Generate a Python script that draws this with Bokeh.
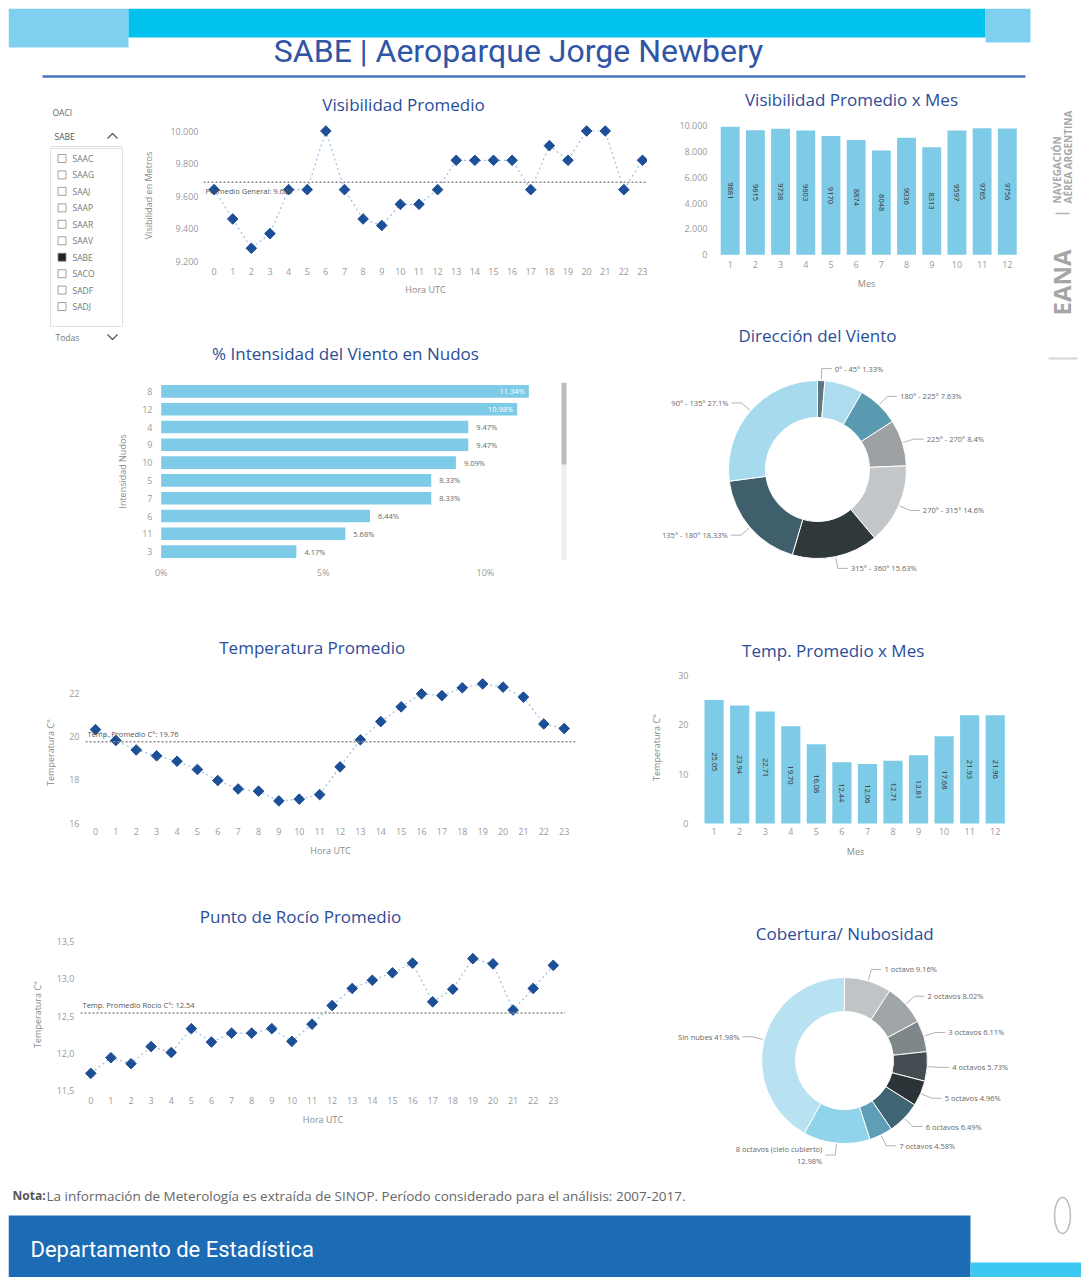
import math
from bokeh.plotting import figure
from bokeh.layouts import row, column
from bokeh.models import Range1d, FactorRange, FixedTicker, CustomJSTickFormatter, Span, Spacer
from bokeh.core.properties import value
from bokeh.embed import file_html
from bokeh.resources import INLINE

# ------------------------------------------------------------------ data
hours = list(range(24))
vis_hour = [9640, 9460, 9280, 9370, 9640, 9640, 10000, 9640, 9460, 9420, 9550, 9550,
            9640, 9820, 9820, 9820, 9820, 9640, 9910, 9820, 10000, 10000, 9640, 9820]
vis_avg = 9686
vis_ticks = [9200, 9400, 9600, 9800, 10000]

months = list(range(1, 13))
vis_month = [9881, 9615, 9738, 9603, 9170, 8874, 8048, 9036, 8313, 9597, 9765, 9756]
vis_month_ticks = [0, 2000, 4000, 6000, 8000, 10000]

wind_knots = ["8", "12", "4", "9", "10", "5", "7", "6", "11", "3"]
wind_pct = [11.34, 10.98, 9.47, 9.47, 9.09, 8.33, 8.33, 6.44, 5.68, 4.17]
wind_ticks = [0, 5, 10]

dir_labels = ["0° - 45°", "45° - 90°", "180° - 225°", "225° - 270°", "270° - 315°",
              "315° - 360°", "135° - 180°", "90° - 135°"]
dir_pct = [1.33, 6.98, 7.63, 8.4, 14.6, 15.63, 18.33, 27.1]
dir_unlabeled = ["45° - 90°"]

temp_hour = [20.32, 19.82, 19.38, 19.11, 18.86, 18.48, 17.97, 17.58, 17.48, 17.03, 17.11, 17.32,
             18.60, 19.85, 20.69, 21.37, 21.97, 21.89, 22.25, 22.43, 22.28, 21.82, 20.58, 20.37]
temp_avg = 19.76
temp_ticks = [16, 18, 20, 22]

temp_month = [25.05, 23.94, 22.71, 19.70, 16.08, 12.44, 12.06, 12.71, 13.81, 17.68, 21.93, 21.96]
temp_month_ticks = [0, 10, 20, 30]

dew_hour = [11.73, 11.94, 11.86, 12.09, 12.01, 12.33, 12.15, 12.27, 12.27, 12.33, 12.16, 12.39,
            12.64, 12.87, 12.98, 13.08, 13.21, 12.69, 12.86, 13.27, 13.20, 12.58, 12.87, 13.18]
dew_avg = 12.54
dew_ticks = [11.5, 12.0, 12.5, 13.0, 13.5]

cloud_labels = ["1 octavo", "2 octavos", "3 octavos", "4 octavos", "5 octavos", "6 octavos",
                "7 octavos", "8 octavos (cielo cubierto)", "Sin nubes"]
cloud_pct = [9.16, 8.02, 6.11, 5.73, 4.96, 6.49, 4.58, 12.98, 41.98]

oaci_items = ["SAAC", "SAAG", "SAAJ", "SAAP", "SAAR", "SAAV", "SABE", "SACO", "SADF", "SADJ"]
oaci_selected = "SABE"

# ------------------------------------------------------------------ styles
FONT = "Open Sans"
TITLE_C = "#2B4D97"
BAR_C = "#7DCBE6"
MARK_C = "#1D4F96"
LINE_C = "#9DBEE2"
AVG_C = "#8C8C8C"
TICK_C = "#9A9A9A"
AXT_C = "#8A8A8A"
LAB_C = "#666666"
DIR_COLORS = ["#5F7580", "#ADDCEE", "#5A9AB1", "#9DA1A4", "#C4C7C9", "#2F393C", "#3E5F6B", "#A7DAEE"]
CLOUD_COLORS = ["#C0C4C6", "#A0A5A8", "#80878B", "#444D51", "#2B3336", "#3F6474", "#5E9EB7",
                "#8FD4EB", "#B8E2F2"]

THOUS = CustomJSTickFormatter(code=r"return Math.round(tick).toString().replace(/\B(?=(\d{3})+(?!\d))/g, '.');")
DECOMMA = CustomJSTickFormatter(code="return tick.toFixed(1).replace('.', ',');")
PCT = CustomJSTickFormatter(code="return tick + '%';")


def lin(v0, p0, v1, p1):
    k = (p1 - p0) / (v1 - v0)
    return lambda px: v0 + (px - p0) / k


def no_align(p):
    try:
        p.frame_align = False
    except Exception:
        pass


def canvas(x0, y0, w, h):
    p = figure(width=w, height=h, x_range=Range1d(x0, x0 + w), y_range=Range1d(-(y0 + h), -y0),
               x_axis_type=None, y_axis_type=None, min_border=0, title=None,
               toolbar_location=None, tools="", output_backend="svg")
    p.outline_line_color = None
    no_align(p)
    return p


def txt(p, x, y, s, size, color, align="left", baseline="middle", style="normal", angle=0.0, font=FONT):
    p.text(x=[x], y=[-y], text=[s], text_font=value(font), text_font_size=f"{size}px",
           text_color=color, text_align=align, text_baseline=baseline,
           text_font_style=style, angle=angle)


def title(p, x, y, s):
    txt(p, x, y, s, 17, TITLE_C, align="center")


def chart(x0, y0, w, h, frame, xr, yr):
    fl, ft, fr, fb = frame
    p = figure(width=w, height=h, x_range=xr, y_range=yr,
               min_border_left=fl - x0, min_border_right=x0 + w - fr,
               min_border_top=ft - y0, min_border_bottom=y0 + h - fb,
               title=None, toolbar_location=None, tools="", output_backend="svg")
    p.outline_line_color = None
    no_align(p)
    p.grid.visible = False
    for ax in p.axis:
        ax.axis_line_color = None
        ax.major_tick_line_color = None
        ax.minor_tick_line_color = None
        ax.major_tick_out = 0
        ax.major_tick_in = 0
        ax.major_label_text_font = FONT
        ax.major_label_text_font_size = "9px"
        ax.major_label_text_color = TICK_C
        ax.axis_label_text_font = FONT
        ax.axis_label_text_font_size = "9px"
        ax.axis_label_text_color = AXT_C
        ax.axis_label_text_font_style = "normal"
    return p


def axes(p, xlab, ylab, xstand, xlstand, ystand, ylstand):
    if xlab:
        p.xaxis.axis_label = xlab
    if ylab:
        p.yaxis.axis_label = ylab
    p.xaxis.major_label_standoff = xstand
    p.xaxis.axis_label_standoff = xlstand
    p.yaxis.major_label_standoff = ystand
    p.yaxis.axis_label_standoff = ylstand


def series(p, xs, ys, avg, label, lx, below):
    p.line(xs, ys, line_color=LINE_C, line_width=1.2, line_dash="2 3")
    p.scatter(xs, ys, marker="square", angle=math.pi / 4, size=7.5, fill_color=MARK_C, line_color=MARK_C)
    p.add_layout(Span(location=avg, dimension="width", line_color=AVG_C, line_width=1.5, line_dash="2 2"))
    p.text(x=[lx], y=[avg], text=[label], x_offset=2, y_offset=(9 if below else -3),
           text_baseline=("middle" if below else "bottom"), text_align="left",
           text_font=value(FONT), text_font_size="7.5px", text_color="#555555")


def donut(p, cx, cy, ro, ri, labels, pcts, colors, hidden):
    starts, ends = [], []
    c = 0.0
    for v in pcts:
        starts.append(math.pi / 2 - 2 * math.pi * c / 100.0)
        c += v
        ends.append(math.pi / 2 - 2 * math.pi * c / 100.0)
    p.annular_wedge(x=cx, y=-cy, inner_radius=ri, outer_radius=ro, start_angle=starts,
                    end_angle=ends, direction="clock", fill_color=colors, line_color="white",
                    line_width=1)
    lx, ly = [], []
    # labels right of the ring are left-aligned, labels left of it are right-aligned
    groups = {"left": ([], [], []), "right": ([], [], [])}
    for lab, v, a0, a1 in zip(labels, pcts, starts, ends):
        if lab in hidden:
            continue
        am = (a0 + a1) / 2
        ux, uy = math.cos(am), math.sin(am)
        side = 1 if ux >= 0 else -1
        x1, y1 = cx + (ro + 1) * ux, -cy + (ro + 1) * uy
        x2, y2 = cx + (ro + 12) * ux, -cy + (ro + 12) * uy
        x3 = x2 + 10 * side
        lx.append([x1, x2, x3])
        ly.append([y1, y2, y2])
        s = f"{lab}\n{v}%" if len(lab) > 15 else f"{lab} {v}%"
        g = groups["left" if side > 0 else "right"]
        g[0].append(x3 + 3 * side)
        g[1].append(y2)
        g[2].append(s)
    p.multi_line(lx, ly, line_color="#A0A0A0", line_width=0.8)
    for al, (gx, gy, gt) in groups.items():
        if gx:
            p.text(x=gx, y=gy, text=gt, text_align=al, text_baseline="middle",
                   text_font=value(FONT), text_font_size="7.5px", text_color=LAB_C)


# ------------------------------------------------------------------ header
header = canvas(8, 8, 1030, 72)
header.quad(left=[8, 128, 985], right=[128, 985, 1030], top=[-8, -8, -8], bottom=[-47, -37, -42],
            fill_color=["#7FD0EF", "#00C1EE", "#7FD0EF"], line_color=None)
txt(header, 518, 50, "SABE | Aeroparque Jorge Newbery", 32, "#2F55A4", align="center", font="Roboto")
header.line([42, 1025], [-76, -76], line_color="#4A74C2", line_width=2.5)

# ------------------------------------------------------------------ slicer
slicer = canvas(8, 80, 130, 262)
txt(slicer, 52, 112, "OACI", 8.5, LAB_C)
txt(slicer, 54, 136, oaci_selected, 8.5, "#555555")
slicer.line([50, 122], [-146, -146], line_color="#DDDDDD", line_width=1)
slicer.line([107, 112, 117], [-138, -133, -138], line_color="#555555", line_width=1.2)
slicer.quad(left=[50], right=[122], top=[-148], bottom=[-326], fill_color=None, line_color="#E2E2E2")
iy = [-(158 + 16.45 * i) for i in range(len(oaci_items))]
slicer.rect(x=[61.5] * len(oaci_items), y=iy, width=8, height=8,
            fill_color=["#222222" if s == oaci_selected else "white" for s in oaci_items],
            line_color="#8A8A8A", line_width=0.8)
slicer.text(x=[72] * len(oaci_items), y=iy, text=oaci_items, text_baseline="middle",
            text_font=value(FONT), text_font_size="8.5px", text_color="#777777")
txt(slicer, 55, 337, "Todas", 8.5, "#777777")
slicer.line([107, 112, 117], [-334, -339, -334], line_color="#555555", line_width=1.2)

# ------------------------------------------------------------------ Visibilidad Promedio
vis_t = canvas(138, 80, 509, 38)
title(vis_t, 403, 104, "Visibilidad Promedio")
vx = lin(0, 213.6, 23, 642)
vy = lin(9200, 260.8, 10000, 130.5)
vis = chart(138, 118, 509, 224, (203, 124, 647, 266), Range1d(vx(203), vx(647)), Range1d(vy(266), vy(124)))
vis.xaxis.ticker = FixedTicker(ticks=hours)
vis.yaxis.ticker = FixedTicker(ticks=vis_ticks)
vis.yaxis.formatter = THOUS
axes(vis, "Hora UTC", "Visibilidad en Metros", 1, 5, 5, 12)
series(vis, hours, vis_hour, vis_avg, "Promedio General: " + f"{vis_avg:,}".replace(",", "."), vx(203), True)

# ------------------------------------------------------------------ Intensidad del viento
wind_t = canvas(8, 342, 639, 24)
title(wind_t, 345, 353, "% Intensidad del Viento en Nudos")
wx = lin(0, 160.7, 10, 484.9)
wind = chart(8, 366, 639, 226, (157, 382, 572, 560), Range1d(wx(157), wx(572)),
             FactorRange(factors=wind_knots[::-1]))
wind.hbar(y=wind_knots, left=0, right=wind_pct, height=0.71, fill_color=BAR_C, line_color=None)
ins = [i for i, v in enumerate(wind_pct) if v > 10]
out = [i for i, v in enumerate(wind_pct) if v <= 10]
wind.text(x=[wind_pct[i] for i in ins], y=[wind_knots[i] for i in ins],
          text=[f"{wind_pct[i]:.2f}%" for i in ins], x_offset=-4, text_align="right",
          text_baseline="middle", text_font=value(FONT), text_font_size="7.5px", text_color="white")
wind.text(x=[wind_pct[i] for i in out], y=[wind_knots[i] for i in out],
          text=[f"{wind_pct[i]:.2f}%" for i in out], x_offset=8, text_align="left",
          text_baseline="middle", text_font=value(FONT), text_font_size="7.5px", text_color=LAB_C)
wind.quad(left=[wx(561)], right=[wx(566)], bottom=[0], top=[10], fill_color="#EEEEEE", line_color=None)
wind.quad(left=[wx(561)], right=[wx(566)], bottom=[5.4], top=[10], fill_color="#BDBDBD", line_color=None)
wind.xaxis.ticker = FixedTicker(ticks=wind_ticks)
wind.xaxis.formatter = PCT
axes(wind, None, "Intensidad Nudos", 5, 5, 5, 10)

# ------------------------------------------------------------------ Temperatura Promedio
temp_t = canvas(8, 592, 639, 73)
title(temp_t, 311.7, 646.7, "Temperatura Promedio")
tx = lin(0, 95, 22, 543.3)
ty = lin(16, 822.7, 22, 692.7)
temp = chart(8, 665, 639, 205, (85, 678, 575, 826), Range1d(tx(85), tx(575)), Range1d(ty(826), ty(678)))
temp.xaxis.ticker = FixedTicker(ticks=hours)
temp.yaxis.ticker = FixedTicker(ticks=temp_ticks)
axes(temp, "Hora UTC", "Temperatura C°", 1, 6, 6, 9)
series(temp, hours, temp_hour, temp_avg, f"Temp. Promedio C°: {temp_avg}", tx(85), False)

# ------------------------------------------------------------------ Punto de Rocío
dew_t = canvas(8, 870, 639, 62)
title(dew_t, 300, 915.8, "Punto de Rocío Promedio")
dx = lin(0, 90.3, 23, 552.8)
dy = lin(11.5, 1090, 13.5, 941)
dew = chart(8, 932, 639, 248, (80, 935, 565, 1093), Range1d(dx(80), dx(565)), Range1d(dy(1093), dy(935)))
dew.xaxis.ticker = FixedTicker(ticks=hours)
dew.yaxis.ticker = FixedTicker(ticks=dew_ticks)
dew.yaxis.formatter = DECOMMA
axes(dew, "Hora UTC", "Temperatura C°", 3, 6, 6, 10)
series(dew, hours, dew_hour, dew_avg, f"Temp. Promedio Rocío C°: {dew_avg}", dx(80), False)

# ------------------------------------------------------------------ Visibilidad x Mes
vm_t = canvas(647, 80, 391, 35)
title(vm_t, 851, 99, "Visibilidad Promedio x Mes")
m1x = lin(1, 729.7, 12, 1006.8)
m1y = lin(0, 254.3, 10000, 124.8)
vm = chart(647, 115, 391, 185, (712, 119, 1020, 256), Range1d(m1x(712), m1x(1020)), Range1d(m1y(256), m1y(119)))
vm.vbar(x=months, top=vis_month, width=0.75, fill_color=BAR_C, line_color=None)
vm.text(x=months, y=[v / 2 for v in vis_month], text=[str(v) for v in vis_month], angle=-math.pi / 2,
        text_align="center", text_baseline="middle", text_font=value(FONT), text_font_size="7.5px",
        text_color="#333333")
vm.xaxis.ticker = FixedTicker(ticks=months)
vm.yaxis.ticker = FixedTicker(ticks=vis_month_ticks)
vm.yaxis.formatter = THOUS
axes(vm, "Mes", None, 4, 6, 5, 5)

# ------------------------------------------------------------------ Dirección del Viento
dirf = canvas(647, 300, 391, 290)
title(dirf, 817, 335, "Dirección del Viento")
donut(dirf, 817, 469, 89, 52, dir_labels, dir_pct, DIR_COLORS, dir_unlabeled)

# ------------------------------------------------------------------ Temp x Mes
tm_t = canvas(647, 590, 391, 78)
title(tm_t, 832.7, 650, "Temp. Promedio x Mes")
m3x = lin(1, 706, 12, 994.3)
m3y = lin(0, 823, 30, 675)
tm = chart(647, 668, 391, 200, (690, 670, 1012, 824), Range1d(m3x(690), m3x(1012)), Range1d(m3y(824), m3y(670)))
tm.vbar(x=months, top=temp_month, width=0.75, fill_color=BAR_C, line_color=None)
tm.text(x=months, y=[v / 2 for v in temp_month], text=[f"{v:.2f}" for v in temp_month], angle=-math.pi / 2,
        text_align="center", text_baseline="middle", text_font=value(FONT), text_font_size="7.5px",
        text_color="#333333")
tm.xaxis.ticker = FixedTicker(ticks=months)
tm.yaxis.ticker = FixedTicker(ticks=temp_month_ticks)
axes(tm, "Mes", "Temperatura C°", 3, 7, 10, 12)

# ------------------------------------------------------------------ Cobertura
cov = canvas(647, 868, 391, 312)
title(cov, 844.3, 933, "Cobertura/ Nubosidad")
donut(cov, 844, 1060, 83, 49, cloud_labels, cloud_pct, CLOUD_COLORS, [])

# ------------------------------------------------------------------ right strip (logo)
strip = canvas(1038, 8, 43, 1172)
txt(strip, 1056, 203, "NAVEGACIÓN", 10, "#A8A8A8", style="bold", angle=math.pi / 2)
txt(strip, 1067, 203, "AÉREA ARGENTINA", 10, "#A8A8A8", style="bold", angle=math.pi / 2)
strip.line([1055, 1069], [-213, -213], line_color="#B5B5B5", line_width=1.5)
txt(strip, 1061, 282, "EANA", 24, "#A5A5A5", align="center", style="bold", angle=math.pi / 2)
strip.line([1048, 1077], [-358, -358], line_color="#D5D5D5", line_width=2)

# ------------------------------------------------------------------ footer
footer = canvas(8, 1180, 1073, 97)
txt(footer, 12, 1195, "Nota:", 12, "#555555", style="bold")
txt(footer, 46, 1195, "La información de Meterología es extraída de SINOP. Período considerado para el análisis: 2007-2017.",
    13.5, "#666666")
footer.quad(left=[8, 970], right=[970, 1081], top=[-1215, -1262], bottom=[-1277, -1277],
            fill_color=["#1C6BB5", "#3CC8F0"], line_color=None)
txt(footer, 30, 1249, "Departamento de Estadística", 22, "white", font="Roboto")
footer.ellipse(x=[1062], y=[-1215], width=16, height=36, fill_color=None, line_color="#BBBBBB", line_width=1.5)

# ------------------------------------------------------------------ layout
left_col = column(row(slicer, column(vis_t, vis)), wind_t, wind, temp_t, temp, dew_t, dew)
right_col = column(vm_t, vm, dirf, tm_t, tm, cov)
main = column(header, row(left_col, right_col))
content = column(row(main, strip), footer)
page = column(Spacer(width=1081, height=8), row(Spacer(width=8, height=1269), content))

open("out.html", "w").write(file_html(page, INLINE, title="SABE | Aeroparque Jorge Newbery"))
